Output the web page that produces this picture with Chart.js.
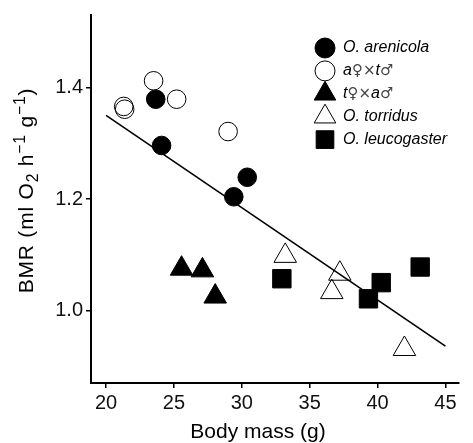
<!DOCTYPE html>
<html>
<head>
<meta charset="utf-8">
<script src="https://cdn.jsdelivr.net/npm/chart.js@4.4.1/dist/chart.umd.min.js"></script>
<style>
  html, body { margin: 0; padding: 0; background: #fff; }
  #wrap { position: relative; width: 473px; height: 443px; }
</style>
</head>
<body>
<div id="wrap"><canvas id="myChart"></canvas></div>
<script>
// values: body mass (g) and BMR (ml O2 h-1 g-1)
var arenicolaMass = [23.66, 24.09, 29.41, 30.40];
var arenicolaBmr  = [1.379, 1.296, 1.204, 1.239];

var hybAtMass = [21.30, 21.37, 23.50, 25.20, 28.99];
var hybAtBmr  = [1.366, 1.361, 1.412, 1.379, 1.321];

var hybTaMass = [25.56, 27.10, 28.04];
var hybTaBmr  = [1.075, 1.072, 1.025];

var torridusMass = [33.20, 37.22, 36.63, 41.98];
var torridusBmr  = [1.098, 1.066, 1.033, 0.931];

var leucoMass = [32.95, 39.33, 40.27, 43.14];
var leucoBmr  = [1.057, 1.021, 1.050, 1.078];

// regression line end points
var fitMass = [20, 45];
var fitBmr  = [1.350, 0.936];

var xTicks = [20, 25, 30, 35, 40, 45];
var yTicks = [1.0, 1.2, 1.4];

var legendLabels = ['O. arenicola', 'a\u2640\u00d7t\u2642', 't\u2640\u00d7a\u2642', 'O. torridus', 'O. leucogaster'];

var FONT = '"Liberation Sans", Arial, Helvetica, sans-serif';
var SYMFONT = '"DejaVu Sans", sans-serif';

function toPoints(xs, ys) {
    var out = [];
    for (var i = 0; i < xs.length; i++) {
        out.push({x: xs[i], y: ys[i]});
    }
    return out;
}

function drawMarker(ctx, style, x, y, r, fill) {
    ctx.beginPath();
    if (style == 'circle') {
        ctx.arc(x, y, r, 0, Math.PI * 2);
    } else if (style == 'triangle') {
        var a = 0;
        ctx.moveTo(x + Math.sin(a) * r, y - Math.cos(a) * r);
        a += Math.PI * 2 / 3;
        ctx.lineTo(x + Math.sin(a) * r, y - Math.cos(a) * r);
        a += Math.PI * 2 / 3;
        ctx.lineTo(x + Math.sin(a) * r, y - Math.cos(a) * r);
        ctx.closePath();
    } else {
        var s = r * Math.SQRT1_2;
        ctx.rect(x - s, y - s, s * 2, s * 2);
    }
    if (fill) {
        ctx.fillStyle = '#000';
        ctx.fill();
    }
    ctx.strokeStyle = '#000';
    ctx.lineWidth = 1;
    ctx.stroke();
}

// legend inside the plot, italic names with plain sex symbols
var legendPlugin = {
    id: 'innerLegend',
    afterDraw: function(chart) {
        var ctx = chart.ctx;
        var area = chart.chartArea;
        var mx = area.right - 134;
        var tx = area.right - 116;
        var y0 = area.top + 33;
        ctx.save();
        ctx.textBaseline = 'middle';
        ctx.textAlign = 'left';
        for (var i = 0; i < legendLabels.length; i++) {
            var ds = chart.data.datasets[i];
            var y = y0 + i * 22.9;
            var r = ds.pointStyle == 'circle' ? 10 : 12.5;
            drawMarker(ctx, ds.pointStyle, mx, y, r, ds.backgroundColor == '#000');
            var x = tx;
            var label = legendLabels[i];
            for (var c = 0; c < label.length; c++) {
                var ch = label[c];
                var plain = (ch == '\u2640' || ch == '\u2642' || ch == '\u00d7');
                ctx.font = plain ? ('15px ' + SYMFONT) : ('italic 16px ' + FONT);
                ctx.fillStyle = plain ? '#444' : '#000';
                ctx.fillText(ch, x, y);
                x += ctx.measureText(ch).width;
            }
        }
        ctx.restore();
    }
};

// axis titles, y title needs sub and superscripts
var titlePlugin = {
    id: 'axisTitles',
    afterDraw: function(chart) {
        var ctx = chart.ctx;
        var size = 21;
        var small = size * 0.75;
        ctx.save();
        ctx.fillStyle = '#000';
        ctx.textBaseline = 'alphabetic';
        ctx.textAlign = 'center';
        ctx.font = size + 'px ' + FONT;
        ctx.fillText('Body mass (g)', 258, 438);

        var parts = [
            ['BMR (ml O', 0], ['2', 1], [' h', 0], ['\u22121', -1],
            [' g', 0], ['\u22121', -1], [')', 0]
        ];
        ctx.letterSpacing = '0.8px';
        var total = 0;
        var i;
        for (i = 0; i < parts.length; i++) {
            ctx.font = (parts[i][1] ? small : size) + 'px ' + FONT;
            total += ctx.measureText(parts[i][0]).width;
        }
        ctx.translate(33, 190.5);
        ctx.rotate(-Math.PI / 2);
        ctx.textAlign = 'left';
        var x = -total / 2;
        for (i = 0; i < parts.length; i++) {
            var t = parts[i];
            ctx.font = (t[1] ? small : size) + 'px ' + FONT;
            var dy = t[1] == 1 ? size * 0.22 : (t[1] == -1 ? -size * 0.4 : 0);
            ctx.fillText(t[0], x, dy);
            x += ctx.measureText(t[0]).width;
        }
        ctx.restore();
    }
};

var ctx = document.getElementById('myChart');
var myChart = new Chart(ctx, {
    type: 'scatter',
    data: {
        datasets: [
            {
                label: legendLabels[0],
                data: toPoints(arenicolaMass, arenicolaBmr),
                pointStyle: 'circle',
                pointRadius: 9.3,
                backgroundColor: '#000',
                borderColor: '#000',
                borderWidth: 1
            },
            {
                label: legendLabels[1],
                data: toPoints(hybAtMass, hybAtBmr),
                pointStyle: 'circle',
                pointRadius: 9.3,
                backgroundColor: 'rgba(255,255,255,0)',
                borderColor: '#000',
                borderWidth: 1
            },
            {
                label: legendLabels[2],
                data: toPoints(hybTaMass, hybTaBmr),
                pointStyle: 'triangle',
                pointRadius: 13,
                backgroundColor: '#000',
                borderColor: '#000',
                borderWidth: 1
            },
            {
                label: legendLabels[3],
                data: toPoints(torridusMass, torridusBmr),
                pointStyle: 'triangle',
                pointRadius: 13,
                backgroundColor: 'rgba(255,255,255,0)',
                borderColor: '#000',
                borderWidth: 1
            },
            {
                label: legendLabels[4],
                data: toPoints(leucoMass, leucoBmr),
                pointStyle: 'rect',
                pointRadius: 13,
                backgroundColor: '#000',
                borderColor: '#000',
                borderWidth: 1
            },
            {
                label: 'fit',
                data: toPoints(fitMass, fitBmr),
                showLine: true,
                pointRadius: 0,
                borderColor: '#000',
                borderWidth: 1.6,
                fill: false
            }
        ]
    },
    options: {
        responsive: true,
        maintainAspectRatio: false,
        animation: false,
        layout: { padding: { top: 12, left: 0, right: 0, bottom: 0 } },
        plugins: {
            legend: { display: false },
            tooltip: { enabled: false }
        },
        scales: {
            x: {
                type: 'linear',
                min: 18.89,
                max: 46,
                afterBuildTicks: function(axis) {
                    axis.ticks = xTicks.map(function(v) { return {value: v}; });
                },
                afterFit: function(scale) { scale.height = 60; },
                grid: { drawOnChartArea: false, tickLength: 5, color: '#000', lineWidth: 1.5 },
                border: { display: true, color: '#000', width: 2 },
                ticks: {
                    color: '#111',
                    padding: 3,
                    maxRotation: 0,
                    font: { family: FONT, size: 20 }
                }
            },
            y: {
                type: 'linear',
                min: 0.87,
                max: 1.53,
                afterBuildTicks: function(axis) {
                    axis.ticks = yTicks.map(function(v) { return {value: v}; });
                },
                afterFit: function(scale) { scale.width = 91; },
                grid: { drawOnChartArea: false, tickLength: 5, color: '#000', lineWidth: 1.5 },
                border: { display: true, color: '#000', width: 2 },
                ticks: {
                    color: '#111',
                    padding: 3,
                    font: { family: FONT, size: 20 },
                    callback: function(v) { return Number(v).toFixed(1); }
                }
            }
        }
    },
    plugins: [legendPlugin, titlePlugin]
});
</script>
</body>
</html>
